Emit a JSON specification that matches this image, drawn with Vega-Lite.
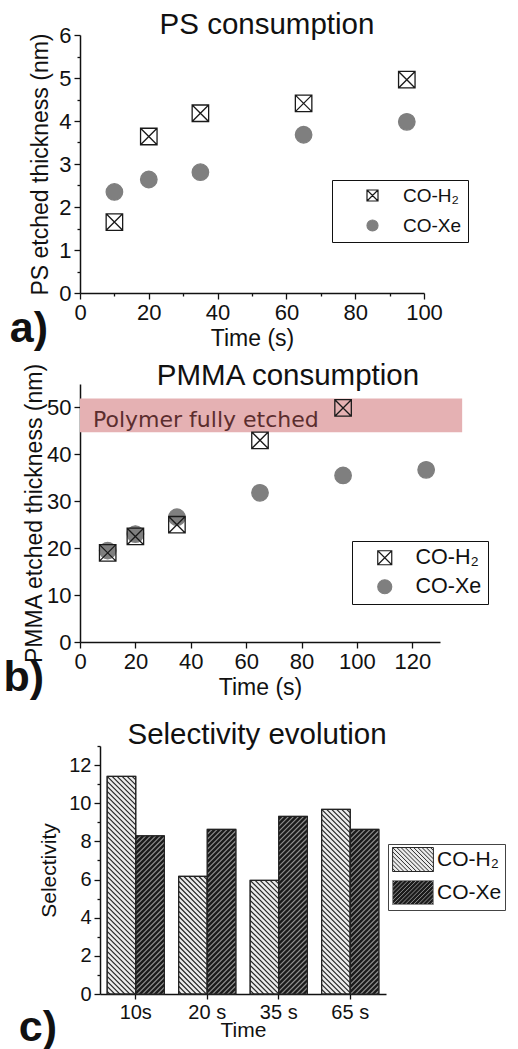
{
  "$schema": "https://vega.github.io/schema/vega-lite/v6.json",
  "background": "white",
  "padding": {"left": 3, "top": 9, "right": 0, "bottom": 0},
  "spacing": 19,
  "resolve": {
    "scale": {"shape": "independent", "fill": "independent", "stroke": "independent"},
    "legend": {"shape": "independent", "fill": "independent", "stroke": "independent"}
  },
  "datasets": {
    "ps": [
      {"time": 10, "thickness": 2.35, "gas": "CO-Xe"},
      {"time": 20, "thickness": 2.64, "gas": "CO-Xe"},
      {"time": 35, "thickness": 2.81, "gas": "CO-Xe"},
      {"time": 65, "thickness": 3.68, "gas": "CO-Xe"},
      {"time": 95, "thickness": 3.98, "gas": "CO-Xe"},
      {"time": 10, "thickness": 1.65, "gas": "CO-H₂"},
      {"time": 20, "thickness": 3.64, "gas": "CO-H₂"},
      {"time": 35, "thickness": 4.18, "gas": "CO-H₂"},
      {"time": 65, "thickness": 4.41, "gas": "CO-H₂"},
      {"time": 95, "thickness": 4.96, "gas": "CO-H₂"}
    ],
    "pmma": [
      {"time": 10, "thickness": 19.5, "gas": "CO-Xe"},
      {"time": 20, "thickness": 23.0, "gas": "CO-Xe"},
      {"time": 35, "thickness": 26.6, "gas": "CO-Xe"},
      {"time": 65, "thickness": 31.8, "gas": "CO-Xe"},
      {"time": 95, "thickness": 35.5, "gas": "CO-Xe"},
      {"time": 125, "thickness": 36.7, "gas": "CO-Xe"},
      {"time": 10, "thickness": 19.0, "gas": "CO-H₂"},
      {"time": 20, "thickness": 22.5, "gas": "CO-H₂"},
      {"time": 35, "thickness": 25.0, "gas": "CO-H₂"},
      {"time": 65, "thickness": 43.0, "gas": "CO-H₂"},
      {"time": 95, "thickness": 49.9, "gas": "CO-H₂"}
    ],
    "selectivity": [
      {"time": "10s", "gas": "CO-H₂", "selectivity": 11.41},
      {"time": "10s", "gas": "CO-Xe", "selectivity": 8.29},
      {"time": "20 s", "gas": "CO-H₂", "selectivity": 6.17},
      {"time": "20 s", "gas": "CO-Xe", "selectivity": 8.63},
      {"time": "35 s", "gas": "CO-H₂", "selectivity": 5.96},
      {"time": "35 s", "gas": "CO-Xe", "selectivity": 9.31},
      {"time": "65 s", "gas": "CO-H₂", "selectivity": 9.68},
      {"time": "65 s", "gas": "CO-Xe", "selectivity": 8.63}
    ]
  },
  "vconcat": [
    {
      "spacing": 10,
      "resolve": {
        "scale": {"shape": "independent", "fill": "independent", "stroke": "independent"},
        "legend": {"shape": "independent", "fill": "independent", "stroke": "independent"}
      },
      "vconcat": [
        {
          "title": {"text": "a)", "orient": "bottom", "anchor": "start", "frame": "bounds", "fontSize": 43, "fontWeight": "bold", "offset": -42, "dx": -20},
          "resolve": {
            "scale": {"shape": "independent", "fill": "independent", "stroke": "independent"},
            "legend": {"shape": "independent", "fill": "independent", "stroke": "independent"}
          },
          "vconcat": [
            {
              "width": 344,
              "height": 258,
              "title": {"text": "PS consumption", "fontSize": 29.5, "frame": "group", "dx": 15, "offset": -16},
              "data": {"name": "ps"},
              "mark": {"type": "point", "filled": true, "opacity": 1, "strokeWidth": 1.3, "size": 272},
              "encoding": {
                "x": {
                  "field": "time", "type": "quantitative",
                  "scale": {"domain": [0, 100], "nice": false, "zero": false},
                  "axis": {
                    "title": "Time (s)",
                    "values": [0, 10, 20, 30, 40, 50, 60, 70, 80, 90, 100],
                    "labelExpr": "datum.value % 20 === 0 ? '' + datum.value : ''",
                    "tickSize": {"condition": {"test": "datum.value % 20 === 0", "value": 6}, "value": 3},
                    "labelPadding": 3, "titlePadding": 4, "labelFlush": false
                  }
                },
                "y": {
                  "field": "thickness", "type": "quantitative",
                  "scale": {"domain": [0, 6], "nice": false},
                  "axis": {
                    "title": "PS etched thickness (nm)",
                    "values": [0, 0.5, 1, 1.5, 2, 2.5, 3, 3.5, 4, 4.5, 5, 5.5, 6],
                    "labelExpr": "datum.value % 1 === 0 ? '' + datum.value : ''",
                    "tickSize": {"condition": {"test": "datum.value % 1 === 0", "value": 6}, "value": 3},
                    "labelPadding": 3, "titlePadding": 6, "labelFlush": false
                  }
                },
                "shape": {
                  "field": "gas", "type": "nominal",
                  "scale": {"domain": ["CO-H₂", "CO-Xe"], "range": ["M-1,-1H1V1H-1ZM-1,-1L1,1M1,-1L-1,1", "circle"]},
                  "legend": {"title": null, "orient": "none", "legendX": 252, "legendY": 145, "strokeColor": "#111", "padding": 6, "labelFontSize": 19, "symbolSize": 121, "symbolOffset": 25, "labelOffset": 21, "rowPadding": 10, "symbolStrokeWidth": 1.2}
                },
                "fill": {
                  "field": "gas", "type": "nominal",
                  "scale": {"domain": ["CO-H₂", "CO-Xe"], "range": ["transparent", "#7f7f7f"]},
                  "legend": {"title": null, "orient": "none", "legendX": 252, "legendY": 145, "strokeColor": "#111", "padding": 6, "labelFontSize": 19, "symbolSize": 121, "symbolOffset": 25, "labelOffset": 21, "rowPadding": 10, "symbolStrokeWidth": 1.2}
                },
                "stroke": {
                  "field": "gas", "type": "nominal",
                  "scale": {"domain": ["CO-H₂", "CO-Xe"], "range": ["#1a1a1a", "#7f7f7f"]},
                  "legend": {"title": null, "orient": "none", "legendX": 252, "legendY": 145, "strokeColor": "#111", "padding": 6, "labelFontSize": 19, "symbolSize": 121, "symbolOffset": 25, "labelOffset": 21, "rowPadding": 10, "symbolStrokeWidth": 1.2}
                }
              }
            }
          ]
        },
        {
          "title": {"text": "b)", "orient": "bottom", "anchor": "start", "frame": "bounds", "fontSize": 43, "fontWeight": "bold", "offset": -42, "dx": -20},
          "resolve": {
            "scale": {"shape": "independent", "fill": "independent", "stroke": "independent"},
            "legend": {"shape": "independent", "fill": "independent", "stroke": "independent"}
          },
          "vconcat": [
            {
              "width": 360,
              "height": 258,
              "title": {"text": "PMMA consumption", "fontSize": 29.5, "frame": "group", "dx": 28, "offset": -29},
              "layer": [
                {
                  "data": {"values": [{}]},
                  "mark": {"type": "rect", "color": "#e5b1b3", "opacity": 1},
                  "encoding": {
                    "x": {"datum": 0, "type": "quantitative"},
                    "x2": {"datum": 138},
                    "y": {"datum": 44.7, "type": "quantitative"},
                    "y2": {"datum": 51.9}
                  }
                },
                {
                  "data": {"values": [{}]},
                  "mark": {"type": "text", "text": "Polymer fully etched", "align": "left", "baseline": "alphabetic", "font": "DejaVu Sans", "fontSize": 22, "color": "#5b2d2e"},
                  "encoding": {
                    "x": {"datum": 4.7, "type": "quantitative"},
                    "y": {"datum": 45.8, "type": "quantitative"}
                  }
                },
                {
                  "data": {"name": "pmma"},
                  "mark": {"type": "point", "filled": true, "opacity": 1, "strokeWidth": 1.3, "size": 272},
                  "encoding": {
                    "x": {
                      "field": "time", "type": "quantitative",
                      "scale": {"domain": [0, 130], "nice": false, "zero": false},
                      "axis": {
                        "title": "Time (s)",
                        "values": [0, 10, 20, 30, 40, 50, 60, 70, 80, 90, 100, 110, 120, 130],
                        "labelExpr": "datum.value % 20 === 0 ? '' + datum.value : ''",
                        "tickSize": {"condition": {"test": "datum.value % 20 === 0", "value": 6}, "value": 3},
                        "labelPadding": 3, "titlePadding": 4, "labelFlush": false
                      }
                    },
                    "y": {
                      "field": "thickness", "type": "quantitative",
                      "scale": {"domain": [0, 55], "nice": false},
                      "axis": {
                        "title": "PMMA etched thickness (nm)",
                        "values": [0, 5, 10, 15, 20, 25, 30, 35, 40, 45, 50, 55],
                        "labelExpr": "datum.value % 10 === 0 ? '' + datum.value : ''",
                        "tickSize": {"condition": {"test": "datum.value % 10 === 0", "value": 6}, "value": 3},
                        "labelPadding": 3, "titlePadding": 0, "labelFlush": false
                      }
                    },
                    "shape": {
                      "field": "gas", "type": "nominal",
                      "scale": {"domain": ["CO-H₂", "CO-Xe"], "range": ["M-1,-1H1V1H-1ZM-1,-1L1,1M1,-1L-1,1", "circle"]},
                      "legend": {"title": null, "orient": "none", "legendX": 272, "legendY": 157, "strokeColor": "#111", "padding": 6, "labelFontSize": 21.5, "symbolSize": 196, "symbolOffset": 16, "labelOffset": 20, "rowPadding": 6, "symbolStrokeWidth": 1.2}
                    },
                    "fill": {
                      "field": "gas", "type": "nominal",
                      "scale": {"domain": ["CO-H₂", "CO-Xe"], "range": ["transparent", "#7f7f7f"]},
                      "legend": {"title": null, "orient": "none", "legendX": 272, "legendY": 157, "strokeColor": "#111", "padding": 6, "labelFontSize": 21.5, "symbolSize": 196, "symbolOffset": 16, "labelOffset": 20, "rowPadding": 6, "symbolStrokeWidth": 1.2}
                    },
                    "stroke": {
                      "field": "gas", "type": "nominal",
                      "scale": {"domain": ["CO-H₂", "CO-Xe"], "range": ["#1a1a1a", "#7f7f7f"]},
                      "legend": {"title": null, "orient": "none", "legendX": 272, "legendY": 157, "strokeColor": "#111", "padding": 6, "labelFontSize": 21.5, "symbolSize": 196, "symbolOffset": 16, "labelOffset": 20, "rowPadding": 6, "symbolStrokeWidth": 1.2}
                    }
                  }
                }
              ]
            }
          ]
        }
      ]
    },
    {
      "title": {"text": "c)", "orient": "bottom", "anchor": "start", "frame": "bounds", "fontSize": 43, "fontWeight": "bold", "offset": -33, "dx": -20},
      "resolve": {
        "scale": {"shape": "independent", "fill": "independent", "stroke": "independent"},
        "legend": {"shape": "independent", "fill": "independent", "stroke": "independent"}
      },
      "vconcat": [
        {
          "width": 306,
          "height": 248,
          "title": {"text": "Selectivity evolution", "fontSize": 29.5, "frame": "group", "dx": 24, "offset": -5},
          "data": {"name": "selectivity"},
          "encoding": {
            "x": {
              "field": "time", "type": "nominal", "sort": null,
              "scale": {"range": [20, 306], "paddingInner": 0.2, "paddingOuter": 0.1},
              "axis": {"title": "Time", "labelAngle": 0, "labelFontSize": 20, "titleFontSize": 21, "tickSize": 5, "labelPadding": 3, "titlePadding": -3}
            },
            "xOffset": {"field": "gas", "type": "nominal"},
            "y": {
              "field": "selectivity", "type": "quantitative",
              "scale": {"domain": [0, 13], "nice": false},
              "axis": {
                "title": "Selectivity", "offset": -20,
                "values": [0, 1, 2, 3, 4, 5, 6, 7, 8, 9, 10, 11, 12, 13],
                "labelExpr": "datum.value % 2 === 0 ? '' + datum.value : ''",
                "tickSize": {"condition": {"test": "datum.value % 2 === 0", "value": 6}, "value": 3},
                "labelFontSize": 20, "titleFontSize": 21, "labelPadding": 3, "titlePadding": 9, "labelFlush": false
              }
            }
          },
          "layer": [
            {
              "mark": {"type": "bar", "stroke": "#2a2a2a", "strokeWidth": 1},
              "encoding": {
                "fill": {
                  "field": "gas", "type": "nominal",
                  "scale": {"domain": ["CO-H₂", "CO-Xe"], "range": ["#ececec", "#1b1b1b"]},
                  "legend": {"title": null, "orient": "none", "legendX": 308, "legendY": 98, "strokeColor": "#444", "padding": 3, "labelFontSize": 21, "symbolSize": 576, "symbolOffset": 9.5, "labelOffset": 11.5, "rowPadding": 4, "symbolStrokeWidth": 1}
                }
              }
            },
            {
              "mark": {"type": "point", "filled": false, "opacity": 1, "strokeWidth": 1.2, "size": 4, "clip": true},
              "encoding": {
                "shape": {
                  "condition": {
                    "test": "datum.gas === 'CO-H₂'",
                    "value": "M10.7,0L14.3,3.6M5.7,0L14.3,8.6M0.7,0L14.3,13.6M-4.3,0L14.3,18.6M-9.3,0L14.3,23.6M-14.3,0L14.3,28.6m-28.6,-23.6l28.6,28.6m-28.6,-23.6l28.6,28.6m-28.6,-23.6l28.6,28.6m-28.6,-23.6l28.6,28.6m-28.6,-23.6l28.6,28.6m-28.6,-23.6l28.6,28.6m-28.6,-23.6l28.6,28.6m-28.6,-23.6l28.6,28.6m-28.6,-23.6l28.6,28.6m-28.6,-23.6l28.6,28.6m-28.6,-23.6l28.6,28.6m-28.6,-23.6l28.6,28.6m-28.6,-23.6l28.6,28.6m-28.6,-23.6l28.6,28.6m-28.6,-23.6l28.6,28.6m-28.6,-23.6l28.6,28.6m-28.6,-23.6l28.6,28.6m-28.6,-23.6l28.6,28.6m-28.6,-23.6l28.6,28.6m-28.6,-23.6l28.6,28.6m-28.6,-23.6l28.6,28.6m-28.6,-23.6l28.6,28.6m-28.6,-23.6l28.6,28.6m-28.6,-23.6l28.6,28.6m-28.6,-23.6l28.6,28.6m-28.6,-23.6l28.6,28.6m-28.6,-23.6l28.6,28.6m-28.6,-23.6l28.6,28.6m-28.6,-23.6l28.6,28.6m-28.6,-23.6l28.6,28.6m-28.6,-23.6l28.6,28.6m-28.6,-23.6l28.6,28.6m-28.6,-23.6l28.6,28.6m-28.6,-23.6l28.6,28.6m-28.6,-23.6l28.6,28.6m-28.6,-23.6l28.6,28.6m-28.6,-23.6l28.6,28.6m-28.6,-23.6l28.6,28.6m-28.6,-23.6l28.6,28.6m-28.6,-23.6l28.6,28.6m-28.6,-23.6l28.6,28.6m-28.6,-23.6l28.6,28.6m-28.6,-23.6l28.6,28.6m-28.6,-23.6l28.6,28.6m-28.6,-23.6l28.6,28.6"
                  },
                  "value": "M-14.3,5L-9.3,0M-14.3,10L-4.3,0M-14.3,15L0.7,0M-14.3,20L5.7,0M-14.3,25L10.7,0M-14.3,30L14.3,1.4m-28.6,33.6l28.6,-28.6m-28.6,33.6l28.6,-28.6m-28.6,33.6l28.6,-28.6m-28.6,33.6l28.6,-28.6m-28.6,33.6l28.6,-28.6m-28.6,33.6l28.6,-28.6m-28.6,33.6l28.6,-28.6m-28.6,33.6l28.6,-28.6m-28.6,33.6l28.6,-28.6m-28.6,33.6l28.6,-28.6m-28.6,33.6l28.6,-28.6m-28.6,33.6l28.6,-28.6m-28.6,33.6l28.6,-28.6m-28.6,33.6l28.6,-28.6m-28.6,33.6l28.6,-28.6m-28.6,33.6l28.6,-28.6m-28.6,33.6l28.6,-28.6m-28.6,33.6l28.6,-28.6m-28.6,33.6l28.6,-28.6m-28.6,33.6l28.6,-28.6m-28.6,33.6l28.6,-28.6m-28.6,33.6l28.6,-28.6m-28.6,33.6l28.6,-28.6m-28.6,33.6l28.6,-28.6m-28.6,33.6l28.6,-28.6m-28.6,33.6l28.6,-28.6m-28.6,33.6l28.6,-28.6m-28.6,33.6l28.6,-28.6m-28.6,33.6l28.6,-28.6m-28.6,33.6l28.6,-28.6m-28.6,33.6l28.6,-28.6m-28.6,33.6l28.6,-28.6m-28.6,33.6l28.6,-28.6m-28.6,33.6l28.6,-28.6m-28.6,33.6l28.6,-28.6m-28.6,33.6l28.6,-28.6m-28.6,33.6l28.6,-28.6m-28.6,33.6l28.6,-28.6m-28.6,33.6l28.6,-28.6m-28.6,33.6l28.6,-28.6"
                },
                "stroke": {
                  "condition": {"test": "datum.gas === 'CO-H₂'", "value": "#262626"},
                  "value": "#8e8e8e"
                }
              }
            },
            {
              "transform": [{"filter": "false"}],
              "mark": {"type": "point", "filled": true, "opacity": 1},
              "encoding": {
                "shape": {
                  "field": "gas", "type": "nominal",
                  "scale": {"domain": ["CO-H₂", "CO-Xe"], "range": [
                    "M-1.7,-1H1.7V1H-1.7ZM-1.7,0.75L-1.45,1M-1.7,0.4L-1.1,1M-1.7,0.05L-0.75,1M-1.7,-0.3L-0.4,1M-1.7,-0.65L-0.05,1M-1.7,-1L0.3,1M-1.35,-1L0.65,1M-1,-1L1,1M-0.65,-1L1.35,1M-0.3,-1L1.7,1M0.05,-1L1.7,0.65M0.4,-1L1.7,0.3M0.75,-1L1.7,-0.05M1.1,-1L1.7,-0.4M1.45,-1L1.7,-0.75",
                    "M-1.7,-1H1.7V1H-1.7ZM-1.7,-0.75L-1.45,-1M-1.7,-0.4L-1.1,-1M-1.7,-0.05L-0.75,-1M-1.7,0.3L-0.4,-1M-1.7,0.65L-0.05,-1M-1.7,1L0.3,-1M-1.35,1L0.65,-1M-1,1L1,-1M-0.65,1L1.35,-1M-0.3,1L1.7,-1M0.05,1L1.7,-0.65M0.4,1L1.7,-0.3M0.75,1L1.7,0.05M1.1,1L1.7,0.4M1.45,1L1.7,0.75"
                  ]},
                  "legend": {"title": null, "orient": "none", "legendX": 308, "legendY": 98, "strokeColor": "#444", "padding": 3, "labelFontSize": 21, "symbolSize": 576, "symbolOffset": 9.5, "labelOffset": 11.5, "rowPadding": 4, "symbolStrokeWidth": 1}
                },
                "stroke": {
                  "field": "gas", "type": "nominal",
                  "scale": {"domain": ["CO-H₂", "CO-Xe"], "range": ["#262626", "#8e8e8e"]},
                  "legend": {"title": null, "orient": "none", "legendX": 308, "legendY": 98, "strokeColor": "#444", "padding": 3, "labelFontSize": 21, "symbolSize": 576, "symbolOffset": 9.5, "labelOffset": 11.5, "rowPadding": 4, "symbolStrokeWidth": 1}
                }
              }
            },
            {
              "mark": {"type": "bar", "fillOpacity": 0, "stroke": "#222", "strokeWidth": 1.2},
              "encoding": {}
            }
          ]
        }
      ]
    }
  ],
  "config": {
    "font": "Liberation Sans",
    "view": {"stroke": null},
    "axis": {
      "domainColor": "#111", "domainWidth": 1.5, "tickColor": "#111", "tickWidth": 1.3,
      "labelColor": "#111", "titleColor": "#111", "labelFont": "Liberation Sans", "titleFont": "Liberation Sans",
      "titleFontWeight": "normal", "grid": false, "labelFontSize": 22, "titleFontSize": 23
    },
    "title": {"font": "Liberation Sans", "fontWeight": "normal", "color": "#111"},
    "legend": {"labelFont": "Liberation Sans", "labelColor": "#111"}
  }
}
